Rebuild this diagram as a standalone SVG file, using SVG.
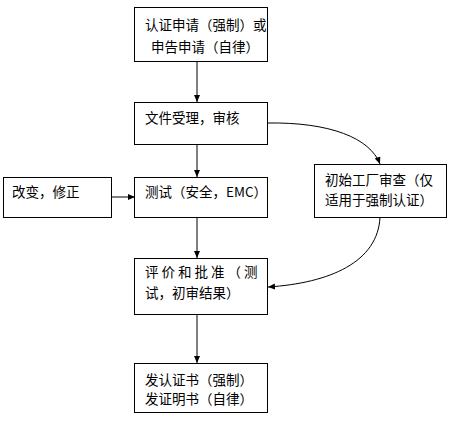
<svg xmlns="http://www.w3.org/2000/svg" width="451" height="422" viewBox="0 0 451 422">
<style>
  .box{fill:#fff;stroke:#000;stroke-width:1}
  .t{font-family:"Noto Sans CJK SC","Noto Sans",sans-serif;font-size:13.5px;fill:#000}
  .c{fill:none;stroke:#000;stroke-width:1}
</style>
<defs>
  <marker id="ah" markerWidth="8" markerHeight="8" refX="7" refY="4" orient="auto" markerUnits="userSpaceOnUse">
    <path d="M0,1 L7,4 L0,7 Z" fill="#000"/>
  </marker>
</defs>
<rect width="451" height="422" fill="#fff"/>
<g id="connectors">
  <line class="c" x1="197" y1="61" x2="197" y2="102" marker-end="url(#ah)"/>
  <line class="c" x1="197" y1="144" x2="197" y2="177" marker-end="url(#ah)"/>
  <line class="c" x1="197" y1="217" x2="197" y2="258" marker-end="url(#ah)"/>
  <line class="c" x1="197" y1="314" x2="197" y2="363" marker-end="url(#ah)"/>
  <line class="c" x1="111" y1="197" x2="135" y2="197" marker-end="url(#ah)"/>
  <path class="c" d="M267,123 C330,122 370,138 380,164" marker-end="url(#ah)"/>
  <path class="c" d="M380,217 C378,262 330,283 268,287" marker-end="url(#ah)"/>
</g>
<g id="n1">
  <rect class="box" x="134.5" y="7.5" width="133" height="54"/>
  <text class="t" x="145" y="30">认证申请（强制）或</text>
  <text class="t" x="151" y="52">申告申请（自律）</text>
</g>
<g id="n2">
  <rect class="box" x="134.5" y="102.5" width="133" height="42"/>
  <text class="t" x="145" y="123">文件受理，审核</text>
</g>
<g id="n3">
  <rect class="box" x="134.5" y="177.5" width="133" height="40"/>
  <text class="t" x="145" y="197">测试（安全，EMC）</text>
</g>
<g id="n4">
  <rect class="box" x="3.5" y="177.5" width="108" height="40"/>
  <text class="t" x="12" y="197">改变，修正</text>
</g>
<g id="n5">
  <rect class="box" x="314.5" y="164.5" width="132" height="53"/>
  <text class="t" x="325" y="185">初始工厂审查（仅</text>
  <text class="t" x="325" y="205">适用于强制认证）</text>
</g>
<g id="n6">
  <rect class="box" x="134.5" y="258.5" width="133" height="56"/>
  <text class="t" x="145" y="277" letter-spacing="3">评价和批准（测</text>
  <text class="t" x="145" y="298">试，初审结果）</text>
</g>
<g id="n7">
  <rect class="box" x="134.5" y="363.5" width="133" height="49"/>
  <text class="t" x="145" y="385">发认证书（强制）</text>
  <text class="t" x="145" y="404">发证明书（自律）</text>
</g>
</svg>
